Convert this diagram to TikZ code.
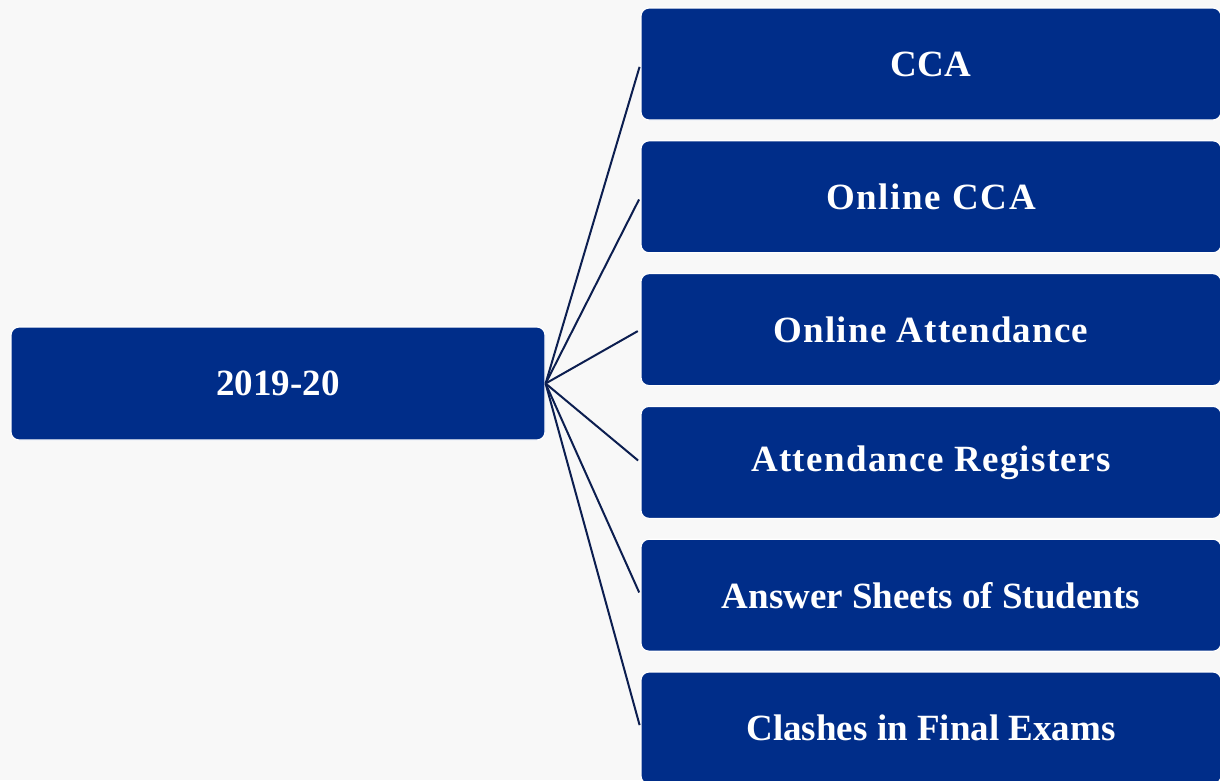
\documentclass[tikz,border=0pt]{standalone}
\usepackage{fontspec}
\setmainfont{Liberation Serif}
\definecolor{boxblue}{RGB}{0,45,137}
\definecolor{linknavy}{RGB}{12,30,80}
\definecolor{pagegray}{RGB}{248,248,248}
\begin{document}
\begin{tikzpicture}[x=1pt, y=-1pt,
  every node/.style = {shape=rectangle, align=center, rounded corners=8pt,
    fill=boxblue, draw=white, line width=1.2pt, text=white, inner sep=0pt,
    font=\fontsize{37}{44}\selectfont\bfseries},
  rootbox/.style = {minimum width=534pt, minimum height=113pt},
  itembox/.style = {minimum width=580pt, minimum height=112pt},
  wide/.style = {font=\fontsize{37}{44}\selectfont\bfseries\addfontfeature{LetterSpace=#1}},
  link/.style = {draw=linknavy, line width=2pt, shorten >=3pt}]
\fill[pagegray] (0,0) rectangle (1220,780);
\useasboundingbox (0,0) rectangle (1220,780);
\clip (0,0) rectangle (1220,780);
\node[rootbox] (year) at (278,383.5) {2019-20};
\node[itembox] (cca) at (931,64) {CCA};
\node[itembox, wide=4.5] (occa) at (931,196.8) {Online CCA};
\node[itembox, wide=3.2] (oatt) at (931,329.6) {Online Attendance};
\node[itembox, wide=3.5] (areg) at (931,462.4) {Attendance Registers};
\node[itembox] (asheet) at (931,595.2) {Answer Sheets of Students};
\node[itembox] (clash) at (931,728) {Clashes in Final Exams};
\draw[link] (year.east) -- (cca.west);
\draw[link] (year.east) -- (occa.west);
\draw[link] (year.east) -- (oatt.west);
\draw[link] (year.east) -- (areg.west);
\draw[link] (year.east) -- (asheet.west);
\draw[link] (year.east) -- (clash.west);
\end{tikzpicture}
\end{document}
